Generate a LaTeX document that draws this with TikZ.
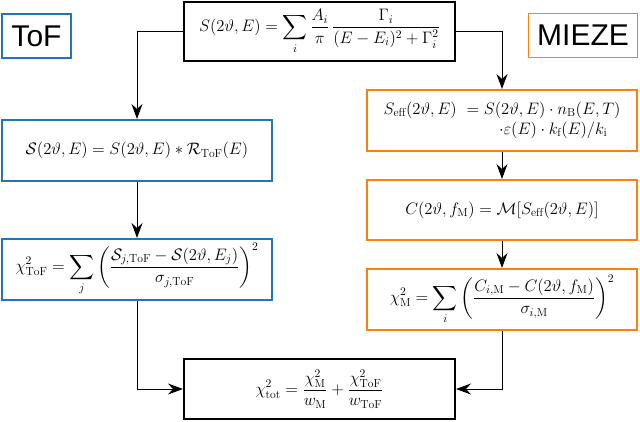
\documentclass[tikz,border=0pt]{standalone}
\usepackage{fix-cm}
\usepackage{exscale}
\usepackage{fontspec}
\newfontfamily\labelfont{Liberation Sans}
\usetikzlibrary{arrows.meta}
\definecolor{tofblue}{RGB}{31,119,180}
\definecolor{miezeorange}{RGB}{255,127,14}
\begin{document}
\begin{tikzpicture}[x=1pt,y=-1pt,
  box/.style={draw, line width=2pt, rectangle, inner sep=0pt, minimum width=270pt, minimum height=60pt, font=\fontsize{16.6}{20}\selectfont, fill=white},
  tofbox/.style={box, draw=tofblue},
  miezebox/.style={box, draw=miezeorange},
  blackbox/.style={box, draw=black, minimum width=271pt},
  tag/.style={draw, line width=1.6pt, rectangle, inner sep=0pt, minimum height=44pt, font=\labelfont\fontsize{30}{34}\selectfont},
  conn/.style={line width=1pt, -{Stealth[length=15pt,width=11pt,inset=5pt]}}
]
\useasboundingbox (0,0) rectangle (640,421);
% header tags
\node[tag, draw=tofblue, minimum width=69pt] (toftag) at (36.5,36) {ToF};
\node[tag, draw=miezeorange, minimum width=109pt] (miezetag) at (583,35.5) {MIEZE};
% boxes
\node[blackbox, minimum height=59pt] (top) at (319.5,31.5)
  {$\displaystyle S(2\vartheta,E)=\sum_i\frac{A_i}{\pi}\,\frac{\Gamma_i}{(E-E_i)^2+\Gamma_i^2}$};
\node[tofbox, minimum height=61pt] (l1) at (137,150.5)
  {$\mathcal{S}(2\vartheta,E)=S(2\vartheta,E)\ast\mathcal{R}_{\mathrm{ToF}}(E)$};
\node[tofbox, minimum height=61pt] (l2) at (137,269.5)
  {$\displaystyle \chi^2_{\mathrm{ToF}}=\sum_j\left(\frac{\mathcal{S}_{j,\mathrm{ToF}}-\mathcal{S}(2\vartheta,E_j)}{\sigma_{j,\mathrm{ToF}}}\right)^2$};
\node[miezebox, minimum height=61pt] (r1) at (502,120.5)
  {$\begin{array}{@{}l@{\hspace{0.6em}}l@{}}
    S_{\mathrm{eff}}(2\vartheta,E) & =S(2\vartheta,E)\cdot n_{\mathrm{B}}(E,T)\\
    & \hspace{1.95em}\cdot\varepsilon(E)\cdot k_{\mathrm{f}}(E)/k_{\mathrm{i}}
  \end{array}$};
\node[miezebox, minimum height=60pt] (r2) at (502,210)
  {$C(2\vartheta,f_{\mathrm{M}})=\mathcal{M}[S_{\mathrm{eff}}(2\vartheta,E)]$};
\node[miezebox, minimum height=61pt] (r3) at (502,299.5)
  {$\displaystyle \chi^2_{\mathrm{M}}=\sum_i\left(\frac{C_{i,\mathrm{M}}-C(2\vartheta,f_{\mathrm{M}})}{\sigma_{i,\mathrm{M}}}\right)^2$};
\node[blackbox, minimum height=60pt] (bot) at (319.5,389)
  {$\displaystyle \chi^2_{\mathrm{tot}}=\frac{\chi^2_{\mathrm{M}}}{w_{\mathrm{M}}}+\frac{\chi^2_{\mathrm{ToF}}}{w_{\mathrm{ToF}}}$};
% connectors
\draw[conn] (top.west) -| (l1.north);
\draw[conn] (top.east) -| (r1.north);
\draw[conn] (l1.south) -- (l2.north);
\draw[conn] (r1.south) -- (r2.north);
\draw[conn] (r2.south) -- (r3.north);
\draw[conn] (l2.south) |- (bot.west);
\draw[conn] (r3.south) |- (bot.east);
\end{tikzpicture}
\end{document}
